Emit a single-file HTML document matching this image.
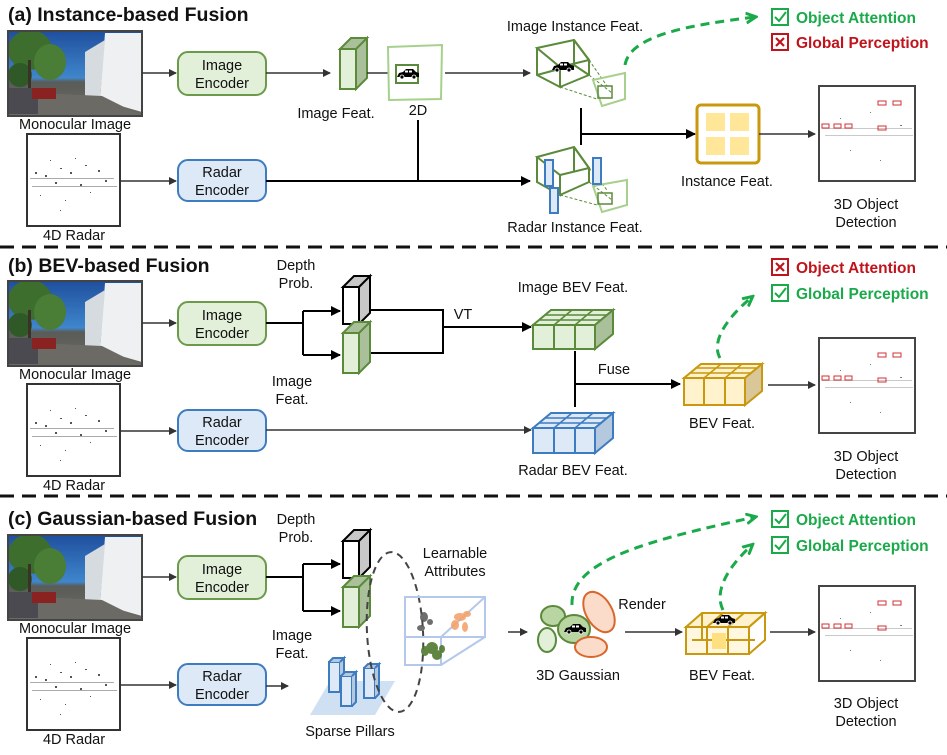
<!DOCTYPE html>
<html><head><meta charset="utf-8"><style>
html,body{margin:0;padding:0;background:#fff;}
svg{display:block;font-family:"Liberation Sans",Arial,sans-serif;}
.t{font-size:14.5px;fill:#111;}
.ti{font-size:19.5px;font-weight:bold;fill:#111;}
.g{font-size:15.5px;font-weight:bold;fill:#1aaa4a;}
.r{font-size:15.5px;font-weight:bold;fill:#c0141c;}
</style></head><body>
<svg width="947" height="755" viewBox="0 0 947 755" xmlns="http://www.w3.org/2000/svg">
<defs>
<marker id="ah" markerWidth="8" markerHeight="8" refX="7" refY="4" orient="auto" markerUnits="userSpaceOnUse"><path d="M0,0 L8,4 L0,8 z" fill="#333"/></marker>
<marker id="ahk" markerWidth="10" markerHeight="10" refX="9" refY="5" orient="auto" markerUnits="userSpaceOnUse"><path d="M0,0 L10,5 L0,10 z" fill="#000"/></marker>
<marker id="ahg" markerWidth="12" markerHeight="12" refX="9" refY="6" orient="auto" markerUnits="userSpaceOnUse"><path d="M0,1 L10,6 L0,11" fill="none" stroke="#1aaa4a" stroke-width="3"/></marker>
<linearGradient id="sky" x1="0" y1="0" x2="0" y2="1"><stop offset="0" stop-color="#1f4f9e"/><stop offset="0.55" stop-color="#3f86cc"/><stop offset="0.6" stop-color="#5a5c58"/><stop offset="1" stop-color="#6a6864"/></linearGradient>
<g id="photo">
<rect x="8" y="31" width="134" height="85" fill="url(#sky)"/>
<ellipse cx="30" cy="50" rx="22" ry="20" fill="#3d6e2e"/>
<ellipse cx="50" cy="62" rx="16" ry="18" fill="#4a7d35"/>
<ellipse cx="20" cy="75" rx="12" ry="12" fill="#2f5a27"/>
<rect x="28" y="60" width="3" height="35" fill="#3a3226"/>
<path d="M105,33 L142,33 L142,112 L100,100 z" fill="#eef0f2"/>
<path d="M85,52 L105,40 L100,100 L85,96 z" fill="#d6dbe0"/>
<path d="M8,116 L142,116 L102,96 L60,94 L8,98 z" fill="#6c6a64"/>
<rect x="8" y="88" width="30" height="26" fill="#4a4a50"/>
<rect x="32" y="88" width="24" height="11" fill="#8a2222"/>
<rect x="8" y="31" width="134" height="85" fill="none" stroke="#444" stroke-width="2"/>
</g>
<g id="radar">
<rect x="27" y="134" width="93" height="92" fill="#fff" stroke="#333" stroke-width="2"/>
<g fill="#555">
<rect x="30" y="178" width="84" height="1" opacity="0.5"/><rect x="32" y="186" width="85" height="1" opacity="0.5"/>
<rect x="35" y="172" width="2" height="2"/><rect x="45" y="175" width="2" height="2"/><rect x="60" y="168" width="2" height="1"/><rect x="70" y="172" width="2" height="2"/><rect x="85" y="165" width="2" height="1"/><rect x="98" y="170" width="2" height="2"/><rect x="55" y="182" width="2" height="2"/><rect x="80" y="184" width="2" height="2"/><rect x="40" y="195" width="1" height="1"/><rect x="65" y="200" width="1" height="1"/><rect x="90" y="192" width="1" height="1"/><rect x="75" y="158" width="1" height="1"/><rect x="50" y="160" width="1" height="1"/><rect x="105" y="180" width="2" height="2"/><rect x="60" y="210" width="1" height="1"/>
</g>
</g>
<g id="det">
<rect x="819" y="86" width="96" height="95" fill="#fff" stroke="#444" stroke-width="2"/>
<g fill="#777"><rect x="822" y="128" width="90" height="1" opacity="0.4"/><rect x="825" y="135" width="88" height="1" opacity="0.4"/><rect x="840" y="118" width="1" height="1"/><rect x="870" y="112" width="1" height="1"/><rect x="900" y="125" width="2" height="1"/><rect x="850" y="150" width="1" height="1"/><rect x="880" y="160" width="1" height="1"/></g>
<g fill="none" stroke="#d03030" stroke-width="1"><rect x="878" y="101" width="8" height="4"/><rect x="893" y="101" width="8" height="4"/><rect x="822" y="124" width="7" height="4"/><rect x="834" y="124" width="7" height="4"/><rect x="845" y="124" width="7" height="4"/><rect x="878" y="126" width="8" height="4"/></g>
</g>
<g id="cuboidG"><path d="M0,11 L11,0 L27,0 L16,11 z M16,11 L27,0 L27,40 L16,51 z" fill="#a9c09a" stroke="#5a8a3a" stroke-width="2"/><rect x="0" y="11" width="16" height="40" fill="#e2efd9" stroke="#5a8a3a" stroke-width="2"/></g>
<g id="cuboidK"><path d="M0,11 L11,0 L27,0 L16,11 z M16,11 L27,0 L27,37 L16,48 z" fill="#c8c8c8" stroke="#000" stroke-width="2"/><rect x="0" y="11" width="16" height="37" fill="#fff" stroke="#000" stroke-width="2"/></g>
<g id="car"><path d="M0,8 L2,4 L6,3 L9,0 L16,0 L19,3 L22,4 L22,8 z" fill="#000"/><circle cx="5" cy="8" r="2" fill="#000" stroke="#fff" stroke-width="0.8"/><circle cx="17" cy="8" r="2" fill="#000" stroke="#fff" stroke-width="0.8"/><rect x="8" y="1.5" width="3" height="2" fill="#fff"/><rect x="12" y="1.5" width="3" height="2" fill="#fff"/></g>
</defs>

<line x1="0" y1="247" x2="947" y2="247" stroke="#111" stroke-width="3" stroke-dasharray="14,8"/>
<line x1="0" y1="496" x2="947" y2="496" stroke="#111" stroke-width="3" stroke-dasharray="14,8"/>

<g id="left">
<use href="#photo"/><use href="#radar"/>
<text class="t" x="75" y="129" text-anchor="middle">Monocular Image</text>
<text class="t" x="74" y="240" text-anchor="middle">4D Radar</text>
<line x1="142" y1="73" x2="176" y2="73" stroke="#333" stroke-width="1.5" marker-end="url(#ah)"/>
<line x1="120" y1="181" x2="176" y2="181" stroke="#333" stroke-width="1.5" marker-end="url(#ah)"/>
<rect x="178" y="52" width="88" height="43" rx="10" fill="#e2efd9" stroke="#6a9a4a" stroke-width="2"/>
<text class="t" x="222" y="70" text-anchor="middle">Image</text><text class="t" x="222" y="88" text-anchor="middle">Encoder</text>
<rect x="178" y="160" width="88" height="41" rx="10" fill="#dde9f6" stroke="#3d7cc0" stroke-width="2"/>
<text class="t" x="222" y="177" text-anchor="middle">Radar</text><text class="t" x="222" y="195" text-anchor="middle">Encoder</text>
</g>
<use href="#left" y="250"/>
<use href="#left" y="504"/>

<!-- (a) -->
<text class="ti" x="8" y="21">(a) Instance-based Fusion</text>
<line x1="266" y1="73" x2="330" y2="73" stroke="#333" stroke-width="1.5" marker-end="url(#ah)"/>
<use href="#cuboidG" x="340" y="38"/>
<text class="t" x="336" y="118" text-anchor="middle">Image Feat.</text>
<line x1="367" y1="73" x2="388" y2="73" stroke="#333" stroke-width="1.5"/>
<path d="M388,47 L442,45 L441,99 L389,100 z" fill="#fff" stroke="#a8d08d" stroke-width="2"/>
<rect x="396" y="65" width="22" height="18" fill="none" stroke="#5a8a3a" stroke-width="2"/>
<use href="#car" x="397" y="69"/>
<text class="t" x="418" y="115" text-anchor="middle">2D</text>
<line x1="445" y1="73" x2="530" y2="73" stroke="#333" stroke-width="1.5" marker-end="url(#ah)"/>
<g fill="none" stroke="#5a8a3a" stroke-width="2">
<path d="M537,48 L574,40 L589,60 L560,67 z"/><path d="M537,48 L537,75 L560,87 L560,67"/><path d="M574,40 L589,60 L589,75 L560,87"/><path d="M537,75 L574,65 L589,75"/><line x1="574" y1="40" x2="574" y2="65"/>
</g>
<path d="M589,60 L607,86 M560,87 L597,99 M589,75 L612,93" stroke="#5a8a3a" stroke-dasharray="3,2" fill="none"/>
<path d="M593,80 L625,73 L625,99 L602,106 z" fill="none" stroke="#a8d08d" stroke-width="2"/>
<rect x="598" y="86" width="14" height="12" fill="none" stroke="#5a8a3a" stroke-width="1.5"/>
<use href="#car" x="552" y="62"/>
<text class="t" x="575" y="31" text-anchor="middle">Image Instance Feat.</text>
<line x1="266" y1="181" x2="530" y2="181" stroke="#000" stroke-width="2" marker-end="url(#ahk)"/>
<line x1="418" y1="120" x2="418" y2="181" stroke="#000" stroke-width="2"/>
<g fill="none" stroke="#5a8a3a" stroke-width="2">
<path d="M537,157 L574,147 L589,168 L560,175 z"/><path d="M537,157 L537,182 L560,195 L560,175"/><path d="M574,147 L589,168 L589,182 L560,195"/><line x1="574" y1="147" x2="574" y2="172"/>
</g>
<path d="M589,168 L607,190 M560,195 L597,205 M589,182 L612,200" stroke="#5a8a3a" stroke-dasharray="3,2" fill="none"/>
<path d="M593,186 L627,180 L627,205 L602,212 z" fill="none" stroke="#a8d08d" stroke-width="2"/>
<rect x="598" y="193" width="14" height="11" fill="none" stroke="#5a8a3a" stroke-width="1.5"/>
<g fill="#dde9f6" stroke="#3d7cc0" stroke-width="2"><rect x="545" y="160" width="8" height="26"/><rect x="593" y="158" width="8" height="26"/><rect x="550" y="188" width="8" height="25"/></g>
<text class="t" x="575" y="232" text-anchor="middle">Radar Instance Feat.</text>
<line x1="581" y1="108" x2="581" y2="145" stroke="#000" stroke-width="2"/>
<line x1="581" y1="134" x2="695" y2="134" stroke="#000" stroke-width="2" marker-end="url(#ahk)"/>
<rect x="697" y="105" width="62" height="58" rx="4" fill="#fff" stroke="#c9980f" stroke-width="3"/>
<g fill="#ffe699"><rect x="706" y="113" width="19" height="18"/><rect x="730" y="113" width="19" height="18"/><rect x="706" y="137" width="19" height="18"/><rect x="730" y="137" width="19" height="18"/></g>
<text class="t" x="727" y="186" text-anchor="middle">Instance Feat.</text>
<line x1="759" y1="134" x2="815" y2="134" stroke="#333" stroke-width="1.5" marker-end="url(#ah)"/>
<use href="#det"/>
<text class="t" x="866" y="209" text-anchor="middle">3D Object</text><text class="t" x="866" y="227" text-anchor="middle">Detection</text>
<path d="M625,65 C630,35 690,25 755,17" fill="none" stroke="#1aaa4a" stroke-width="3" stroke-dasharray="9,6" marker-end="url(#ahg)"/>
<rect x="772" y="9" width="16" height="16" fill="#fff" stroke="#1aaa4a" stroke-width="2"/><path d="M775,17 L779,21 L786,12" fill="none" stroke="#1aaa4a" stroke-width="2"/>
<text class="g" x="796" y="23">Object Attention</text>
<rect x="772" y="34" width="16" height="16" fill="#fff" stroke="#c0141c" stroke-width="2"/><path d="M776,38 L784,46 M784,38 L776,46" stroke="#c0141c" stroke-width="2.2"/>
<text class="r" x="796" y="48">Global Perception</text>

<!-- (b) -->
<text class="ti" x="8" y="272">(b) BEV-based Fusion</text>
<text class="t" x="296" y="270" text-anchor="middle">Depth</text><text class="t" x="296" y="288" text-anchor="middle">Prob.</text>
<text class="t" x="292" y="386" text-anchor="middle">Image</text><text class="t" x="292" y="404" text-anchor="middle">Feat.</text>
<g stroke="#000" stroke-width="2" fill="none">
<path d="M266,323 L303,323 M303,311 L303,355"/>
<line x1="303" y1="311" x2="340" y2="311" marker-end="url(#ahk)"/>
<line x1="303" y1="355" x2="340" y2="355" marker-end="url(#ahk)"/>
<path d="M369,310 L443,310 L443,353 L369,353"/>
<line x1="443" y1="327" x2="531" y2="327" marker-end="url(#ahk)"/>
</g>
<use href="#cuboidK" x="343" y="276"/>
<use href="#cuboidG" x="343" y="322"/>
<text class="t" x="463" y="319" text-anchor="middle">VT</text>
<g>
<path d="M533,325 L551,310 L613,310 L595,325 z" fill="#e2efd9" stroke="#5a8a3a" stroke-width="2"/>
<path d="M539,320 L601,320 M545,315 L607,315 M554,325 L572,310 M575,325 L593,310" stroke="#5a8a3a" stroke-width="1.5"/>
<path d="M595,325 L613,310 L613,334 L595,349 z" fill="#a9c09a" stroke="#5a8a3a" stroke-width="2"/>
<rect x="533" y="325" width="62" height="24" fill="#e2efd9" stroke="#5a8a3a" stroke-width="2"/>
<path d="M554,325 L554,349 M575,325 L575,349" stroke="#5a8a3a" stroke-width="2"/>
</g>
<text class="t" x="573" y="292" text-anchor="middle">Image BEV Feat.</text>
<line x1="266" y1="430" x2="531" y2="430" stroke="#333" stroke-width="1.5" marker-end="url(#ah)"/>
<g>
<path d="M533,428 L551,413 L613,413 L595,428 z" fill="#dde9f6" stroke="#3d7cc0" stroke-width="2"/>
<path d="M539,423 L601,423 M545,418 L607,418 M554,428 L572,413 M575,428 L593,413" stroke="#3d7cc0" stroke-width="1.5"/>
<path d="M595,428 L613,413 L613,438 L595,453 z" fill="#b4c8de" stroke="#3d7cc0" stroke-width="2"/>
<rect x="533" y="428" width="62" height="25" fill="#dde9f6" stroke="#3d7cc0" stroke-width="2"/>
<path d="M554,428 L554,453 M575,428 L575,453" stroke="#3d7cc0" stroke-width="2"/>
</g>
<text class="t" x="573" y="475" text-anchor="middle">Radar BEV Feat.</text>
<line x1="575" y1="351" x2="575" y2="407" stroke="#000" stroke-width="2"/>
<line x1="575" y1="384" x2="680" y2="384" stroke="#000" stroke-width="2" marker-end="url(#ahk)"/>
<text class="t" x="614" y="374" text-anchor="middle">Fuse</text>
<g>
<path d="M684,378 L701,364 L762,364 L745,378 z" fill="#fff2cc" stroke="#c9980f" stroke-width="2"/>
<path d="M690,373 L751,373 M695,368 L756,368 M704,378 L721,364 M725,378 L742,364" stroke="#c9980f" stroke-width="1.5"/>
<path d="M745,378 L762,364 L762,391 L745,405 z" fill="#d9c79a" stroke="#c9980f" stroke-width="2"/>
<rect x="684" y="378" width="61" height="27" fill="#fff2cc" stroke="#c9980f" stroke-width="2"/>
<path d="M704,378 L704,405 M725,378 L725,405" stroke="#c9980f" stroke-width="2"/>
</g>
<text class="t" x="722" y="428" text-anchor="middle">BEV Feat.</text>
<line x1="768" y1="385" x2="815" y2="385" stroke="#333" stroke-width="1.5" marker-end="url(#ah)"/>
<use href="#det" y="252"/>
<text class="t" x="866" y="461" text-anchor="middle">3D Object</text><text class="t" x="866" y="479" text-anchor="middle">Detection</text>
<path d="M720,358 C710,340 730,315 752,297" fill="none" stroke="#1aaa4a" stroke-width="3" stroke-dasharray="9,6" marker-end="url(#ahg)"/>
<rect x="772" y="259" width="16" height="16" fill="#fff" stroke="#c0141c" stroke-width="2"/><path d="M776,263 L784,271 M784,263 L776,271" stroke="#c0141c" stroke-width="2.2"/>
<text class="r" x="796" y="273">Object Attention</text>
<rect x="772" y="285" width="16" height="16" fill="#fff" stroke="#1aaa4a" stroke-width="2"/><path d="M775,293 L779,297 L786,288" fill="none" stroke="#1aaa4a" stroke-width="2"/>
<text class="g" x="796" y="299">Global Perception</text>

<!-- (c) -->
<text class="ti" x="8" y="525">(c) Gaussian-based Fusion</text>
<text class="t" x="296" y="524" text-anchor="middle">Depth</text><text class="t" x="296" y="542" text-anchor="middle">Prob.</text>
<text class="t" x="292" y="640" text-anchor="middle">Image</text><text class="t" x="292" y="658" text-anchor="middle">Feat.</text>
<g stroke="#000" stroke-width="2" fill="none">
<path d="M266,577 L303,577 M303,564 L303,611"/>
<line x1="303" y1="564" x2="340" y2="564" marker-end="url(#ahk)"/>
<line x1="303" y1="611" x2="340" y2="611" marker-end="url(#ahk)"/>
</g>
<use href="#cuboidK" x="343" y="530"/>
<use href="#cuboidG" x="343" y="576"/>
<line x1="266" y1="686" x2="288" y2="686" stroke="#333" stroke-width="1.5" marker-end="url(#ah)"/>
<path d="M310,715 L375,715 L395,681 L330,681 z" fill="#cfe0f3"/>
<g fill="#dde9f6" stroke="#3d7cc0" stroke-width="2">
<rect x="329" y="662" width="11" height="30"/><path d="M329,662 L333,658 L344,658 L340,662 M340,662 L344,658 L344,688 L340,692" fill="#b4c8de"/>
<rect x="341" y="676" width="11" height="30"/><path d="M341,676 L345,672 L356,672 L352,676 M352,676 L356,672 L356,702 L352,706" fill="#b4c8de"/>
<rect x="364" y="668" width="11" height="30"/><path d="M364,668 L368,664 L379,664 L375,668 M375,668 L379,664 L379,694 L375,698" fill="#b4c8de"/>
</g>
<text class="t" x="350" y="736" text-anchor="middle">Sparse Pillars</text>
<ellipse cx="395" cy="632" rx="28" ry="80" transform="rotate(-3 395 632)" fill="none" stroke="#444" stroke-width="2" stroke-dasharray="7,5"/>
<text class="t" x="455" y="558" text-anchor="middle">Learnable</text><text class="t" x="455" y="576" text-anchor="middle">Attributes</text>
<g fill="none" stroke="#b4c8eb" stroke-width="2">
<rect x="405" y="597" width="80" height="40"/><rect x="405" y="637" width="36" height="28"/><path d="M441,637 L485,597 M441,665 L485,637 M405,637 L405,597"/>
</g>
<g fill="#555" opacity="0.85"><ellipse cx="424" cy="617" rx="4" ry="5"/><ellipse cx="421" cy="628" rx="4" ry="3"/><ellipse cx="430" cy="622" rx="3" ry="3"/></g>
<g fill="#f4a36c" opacity="0.9"><ellipse cx="460" cy="617" rx="6" ry="4"/><ellipse cx="455" cy="625" rx="4" ry="5"/><ellipse cx="465" cy="627" rx="3" ry="5"/><ellipse cx="467" cy="614" rx="4" ry="3"/></g>
<g fill="#4f7a2d" opacity="0.9"><ellipse cx="432" cy="648" rx="6" ry="6"/><ellipse cx="425" cy="651" rx="4" ry="5"/><ellipse cx="437" cy="655" rx="5" ry="5"/><ellipse cx="442" cy="649" rx="3" ry="4"/></g>
<line x1="508" y1="632" x2="527" y2="632" stroke="#333" stroke-width="1.5" marker-end="url(#ah)"/>
<ellipse cx="553" cy="616" rx="12" ry="10" fill="#b8d5a2" stroke="#5a8a3a" stroke-width="2"/>
<ellipse cx="547" cy="640" rx="9" ry="12" fill="#e2efd9" stroke="#5a8a3a" stroke-width="2"/>
<ellipse cx="574" cy="629" rx="16" ry="14" fill="#b8d5a2" stroke="#5a8a3a" stroke-width="2"/>
<ellipse cx="599" cy="612" rx="13" ry="22" transform="rotate(-30 599 612)" fill="#fbdccb" stroke="#d9672c" stroke-width="2"/>
<ellipse cx="591" cy="647" rx="16" ry="10" fill="#fbdccb" stroke="#d9672c" stroke-width="2"/>
<use href="#car" x="564" y="624"/>
<text class="t" x="578" y="680" text-anchor="middle">3D Gaussian</text>
<text class="t" x="642" y="609" text-anchor="middle">Render</text>
<line x1="625" y1="632" x2="682" y2="632" stroke="#333" stroke-width="1.5" marker-end="url(#ah)"/>
<g fill="none" stroke="#c9980f" stroke-width="2">
<path d="M686,627 L702,613 L765,613 L749,627 z" fill="#fff2cc"/>
<rect x="686" y="627" width="63" height="27" fill="#fff2cc" opacity="0.6"/>
<rect x="686" y="627" width="63" height="27"/>
<path d="M749,627 L765,613 L765,640 L749,654 M707,627 L707,654 M728,627 L728,654 M707,627 L723,613 M728,627 L744,613 M692,640 L755,640 M702,613 L702,640"/>
<rect x="712" y="633" width="14" height="16" fill="#ffe080" stroke="none"/>
</g>
<use href="#car" x="713" y="615"/>
<text class="t" x="722" y="680" text-anchor="middle">BEV Feat.</text>
<line x1="770" y1="632" x2="815" y2="632" stroke="#333" stroke-width="1.5" marker-end="url(#ah)"/>
<use href="#det" y="500"/>
<text class="t" x="866" y="708" text-anchor="middle">3D Object</text><text class="t" x="866" y="726" text-anchor="middle">Detection</text>
<path d="M572,605 C570,560 650,540 755,517" fill="none" stroke="#1aaa4a" stroke-width="3" stroke-dasharray="9,6" marker-end="url(#ahg)"/>
<path d="M723,610 C713,590 730,565 752,545" fill="none" stroke="#1aaa4a" stroke-width="3" stroke-dasharray="9,6" marker-end="url(#ahg)"/>
<rect x="772" y="511" width="16" height="16" fill="#fff" stroke="#1aaa4a" stroke-width="2"/><path d="M775,519 L779,523 L786,514" fill="none" stroke="#1aaa4a" stroke-width="2"/>
<text class="g" x="796" y="525">Object Attention</text>
<rect x="772" y="537" width="16" height="16" fill="#fff" stroke="#1aaa4a" stroke-width="2"/><path d="M775,545 L779,549 L786,540" fill="none" stroke="#1aaa4a" stroke-width="2"/>
<text class="g" x="796" y="551">Global Perception</text>
</svg>
</body></html>
